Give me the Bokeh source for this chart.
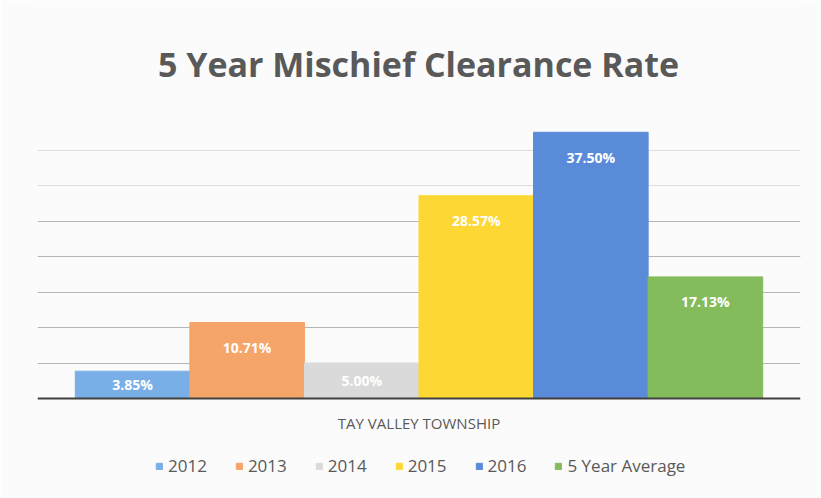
from bokeh.plotting import figure
from bokeh.models import ColumnDataSource, Range1d, FixedTicker, Grid, Label, Legend, LegendItem
from bokeh.embed import file_html
from bokeh.resources import INLINE

# ---- data ----
series = ["2012", "2013", "2014", "2015", "2016", "5 Year Average"]
rates = [3.85, 10.71, 5.00, 28.57, 37.50, 17.13]
rate_labels = ["3.85%", "10.71%", "5.00%", "28.57%", "37.50%", "17.13%"]
category = "TAY VALLEY TOWNSHIP"
title_text = "5 Year Mischief Clearance Rate"
colors = ["#7AAEE6", "#F5A46A", "#DADADA", "#FDD835", "#5A8BD8", "#84BC5C"]

xs = [i + 0.5 for i in range(len(series))]
label_y = [max(v - 3.5, v / 2) for v in rates]

p = figure(width=821, height=498, output_backend="svg", toolbar_location=None,
           x_range=Range1d(-0.33, 6.33), y_range=Range1d(-14.08, 56.06),
           min_border_left=37, min_border_right=21, min_border_top=0,
           min_border_bottom=0)
p.background_fill_color = "#FBFBFB"
p.border_fill_color = "#FBFBFB"
p.outline_line_color = None

items = []
for i, name in enumerate(series):
    src = ColumnDataSource(dict(x=[xs[i]], top=[rates[i]]))
    rr = p.vbar(x="x", top="top", bottom=0, width=1.0, color=colors[i], source=src)
    items.append(LegendItem(label=name, renderers=[rr]))

tsrc = ColumnDataSource(dict(x=xs, ly=label_y, txt=rate_labels))
p.text(x="x", y="ly", text="txt", source=tsrc, text_color="white",
       text_font_style="bold", text_font_size="14px", text_align="center",
       text_baseline="middle", text_font={"value": "Open Sans"})

# axes
p.yaxis.visible = False
p.xaxis.fixed_location = 0
p.xaxis.ticker = FixedTicker(ticks=[3])
p.xaxis.major_label_overrides = {3: category}
p.xaxis.major_tick_line_color = None
p.xaxis.minor_tick_line_color = None
p.xaxis.axis_line_color = "#404040"
p.xaxis.axis_line_width = 2
p.xaxis.major_label_standoff = 8
p.xaxis.major_label_text_font = "Open Sans"
p.xaxis.major_label_text_font_size = "15px"
p.xaxis.major_label_text_color = "#595959"

p.xgrid.visible = False
p.ygrid.visible = False
g1 = Grid(dimension=1, ticker=FixedTicker(ticks=[5, 10, 15, 20, 25]),
          grid_line_color="#B5B5B5", grid_line_width=1)
g2 = Grid(dimension=1, ticker=FixedTicker(ticks=[30, 35]),
          grid_line_color="#DDDDDD", grid_line_width=1)
p.add_layout(g1)
p.add_layout(g2)

# title
p.add_layout(Label(x=381, y=435, x_units="screen", y_units="screen",
                   text=title_text, text_align="center", text_baseline="middle",
                   text_font="Open Sans", text_font_style="bold",
                   text_font_size="34px", text_color="#595959"))

# legend
leg = Legend(items=items, orientation="horizontal", location=(118, 21))
leg.background_fill_alpha = 0
leg.border_line_color = None
leg.glyph_width = 8
leg.glyph_height = 8
leg.label_standoff = 5
leg.spacing = 28
leg.label_text_font = "Open Sans"
leg.label_text_font_size = "17px"
leg.label_text_color = "#595959"
leg.padding = 0
leg.margin = 0
p.add_layout(leg, "center")

open("out.html", "w").write(file_html(p, INLINE))
